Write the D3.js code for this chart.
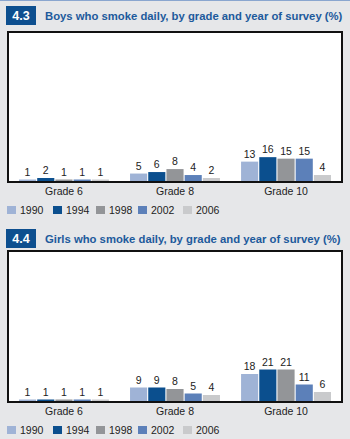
<!DOCTYPE html>
<html><head><meta charset="utf-8">
<script src="https://cdn.jsdelivr.net/npm/d3@7"></script>
<style>
html,body{margin:0;padding:0;background:#e6e7e9;}
svg{display:block;}
</style></head>
<body>
<script>
const grades = ["Grade 6", "Grade 8", "Grade 10"];
const years = ["1990", "1994", "1998", "2002", "2006"];
const colors = ["#9fb3d6", "#0b4f8e", "#939598", "#5c80b9", "#c9cacc"];
const boysValues = [
  [1, 2, 1, 1, 1],
  [5, 6, 8, 4, 2],
  [13, 16, 15, 15, 4]
];
const girlsValues = [
  [1, 1, 1, 1, 1],
  [9, 9, 8, 5, 4],
  [18, 21, 21, 11, 6]
];
const panels = [
  {num: "4.3", title: "Boys who smoke daily, by grade and year of survey (%)", values: boysValues, badgeY: 6, plotTop: 32, plotBottom: 182},
  {num: "4.4", title: "Girls who smoke daily, by grade and year of survey (%)", values: girlsValues, badgeY: 229, plotTop: 251, plotBottom: 402}
];

const W = 350, H = 439;
const svg = d3.select("body").append("svg").attr("width", W).attr("height", H);
svg.append("rect").attr("width", W).attr("height", H).attr("fill", "#e6e7e9");
svg.append("line").attr("x1", 0).attr("x2", W).attr("y1", 0.5).attr("y2", 0.5)
  .attr("stroke", "#8aa6cf").attr("stroke-width", 1);

const font = "Liberation Sans, Arial, sans-serif";

panels.forEach(p => {
  const g = svg.append("g");
  const badgeY = p.badgeY;
  g.append("rect").attr("x", 6).attr("y", badgeY).attr("width", 30).attr("height", 19).attr("fill", "#0d4f8f");
  g.append("text").attr("x", 21).attr("y", badgeY + 14).attr("text-anchor", "middle")
    .attr("fill", "#fff").attr("font-family", font).attr("font-weight", "bold").attr("font-size", 12.5).text(p.num);
  g.append("text").attr("x", 45).attr("y", badgeY + 14)
    .attr("fill", "#1d5a9c").attr("font-family", font).attr("font-weight", "bold").attr("font-size", 11.3).text(p.title);

  const plotTop = p.plotTop, plotBottom = p.plotBottom;
  const left = 9, right = 341;
  g.append("rect").attr("x", 8).attr("y", plotTop).attr("width", 334).attr("height", plotBottom - plotTop)
    .attr("fill", "#fff").attr("stroke", "#111").attr("stroke-width", 2);

  const x0 = d3.scaleBand().domain(grades).range([left, right]).paddingInner(0.19).paddingOuter(0.09);
  const x1 = d3.scaleBand().domain(years).range([0, x0.bandwidth()]).paddingInner(0.06);
  const y = d3.scaleLinear().domain([0, 100]).range([plotBottom - 1, plotTop]);

  grades.forEach((gr, gi) => {
    const gg = g.append("g").attr("transform", `translate(${x0(gr)},0)`);
    years.forEach((yr, yi) => {
      const v = p.values[gi][yi];
      gg.append("rect").attr("x", x1(yr)).attr("y", y(v)).attr("width", x1.bandwidth())
        .attr("height", y(0) - y(v)).attr("fill", colors[yi]);
      gg.append("text").attr("x", x1(yr) + x1.bandwidth() / 2).attr("y", y(v) - 4)
        .attr("text-anchor", "middle").attr("font-family", font).attr("font-size", 10.5)
        .attr("fill", "#222").text(v);
    });
  });

  const xAxis = g.append("g").attr("transform", `translate(0,${plotBottom + 1})`)
    .call(d3.axisBottom(x0).tickSize(0).tickPadding(5));
  xAxis.select(".domain").remove();
  xAxis.attr("font-family", null).attr("font-size", null);
  xAxis.selectAll("text").attr("font-family", font).attr("font-size", 10.5).attr("fill", "#222");

  const legY = plotBottom + 28;
  const legX = [7, 53, 96, 138, 183];
  years.forEach((yr, i) => {
    g.append("rect").attr("x", legX[i]).attr("y", legY - 4).attr("width", 9).attr("height", 8).attr("fill", colors[i]);
    g.append("text").attr("x", legX[i] + 13).attr("y", legY + 4).attr("font-family", font).attr("font-size", 10.5)
      .attr("fill", "#222").text(yr);
  });
});
</script>
</body></html>
